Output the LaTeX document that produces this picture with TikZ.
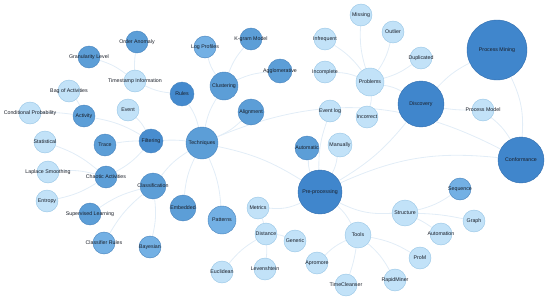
\documentclass[tikz,border=0pt]{standalone}
\usepackage{fontspec}
\setmainfont{Liberation Sans}
\usepackage{xcolor}
\usepackage{tikz}
\usetikzlibrary{backgrounds}

\definecolor{hubcol}{RGB}{64,134,204}
\definecolor{hubline}{RGB}{50,110,175}
\definecolor{midcol}{RGB}{92,158,215}
\definecolor{midline}{RGB}{72,132,190}
\definecolor{mltcol}{RGB}{115,176,228}
\definecolor{leafcol}{RGB}{194,226,248}
\definecolor{leafline}{RGB}{152,198,230}
\definecolor{linkcol}{RGB}{226,237,247}
\definecolor{txtcol}{RGB}{25,30,40}

\begin{document}
\begin{tikzpicture}[
    x=0.03cm,
    y=-0.03cm,
    sz/.style={minimum size=#1*0.06cm},
    bubble/.style={circle, inner sep=0pt, line width=0.35pt},
    hub/.style={bubble, fill=hubcol, draw=hubline},
    mid/.style={bubble, fill=midcol, draw=midline},
    midlt/.style={bubble, fill=mltcol, draw=midline},
    leaf/.style={bubble, fill=leafcol, draw=leafline},
    every label/.style={font=\fontsize{4.5}{5}\selectfont, text=txtcol,
                        inner sep=0pt},
    link/.style={draw=linkcol, line width=0.7pt},
]
\useasboundingbox (0,0) rectangle (550,301);

% main hubs
\node[hub, sz=30, label={center:Process Mining}]  (pm)   at (497,50)  {};
\node[hub, sz=23, label={center:Discovery}]       (disc) at (421,104) {};
\node[hub, sz=23, label={center:Conformance}]     (conf) at (521,160) {};
\node[hub, sz=22, label={center:Pre-processing}]  (pre)  at (320,192) {};
\node[leaf, sz=11, label={center:Process Model}]  (pmod) at (483,110) {};

% problems
\node[leaf, sz=14, label={center:Problems}]   (prob) at (370,82)  {};
\node[leaf, sz=11, label={center:Missing}]    (miss) at (361,15)  {};
\node[leaf, sz=11, label={center:Outlier}]    (outl) at (393,32)  {};
\node[leaf, sz=11, label={center:Duplicated}] (dupl) at (421,58)  {};
\node[leaf, sz=11, label={center:Infrequent}] (infr) at (325,39)  {};
\node[leaf, sz=11, label={center:Incomplete}] (inco) at (325,72)  {};
\node[leaf, sz=11, label={center:Incorrect}]  (incr) at (367,117) {};

% pre-processing
\node[leaf, sz=11, label={center:Event log}]  (elog) at (330,111) {};
\node[leaf, sz=12, label={center:Manually}]   (manu) at (340,145) {};
\node[mid,  sz=12, label={center:Automatic}]  (auto) at (307,148) {};
\node[mid,  sz=16, label={center:Techniques}] (tech) at (202,143) {};

% techniques
\node[mid, sz=12, fill=hubcol!85!midcol, label={center:Rules}] (rule) at (182,94) {};
\node[mid,   sz=14, label={center:Clustering}]    (clus) at (224,86)  {};
\node[midlt, sz=11, label={center:Log Profiles}]  (lprf) at (205,47)  {};
\node[mid,   sz=11, label={center:K-gram Model}]  (kgrm) at (251,39)  {};
\node[mid,   sz=12, label={center:Agglomerative}] (aggl) at (280,71)  {};
\node[mid,   sz=13, label={center:Alignment}]     (alig) at (251,112) {};

\node[mid,  sz=11, label={center:Order Anomaly}]         (oano) at (137,42)  {};
\node[mid,  sz=11, label={center:Granularity Level}]     (gran) at (89,57)   {};
\node[leaf, sz=11, label={center:Timestamp Information}] (tsin) at (135,81)  {};
\node[leaf, sz=11, label={center:Bag of Activities}]     (bago) at (69,91)   {};
\node[leaf, sz=11, label={center:Conditional Probability}] (cond) at (30,113) {};
\node[mid,  sz=11, label={center:Activity}]              (actv) at (84,116)  {};
\node[leaf, sz=11, label={center:Event}]                 (evnt) at (128,110) {};
\node[mid,  sz=12, fill=hubcol!70!midcol, label={center:Filtering}] (filt) at (151,141) {};
\node[mid,  sz=11, label={center:Trace}]                 (trce) at (105,145) {};
\node[leaf, sz=11, label={center:Statistical}]           (stat) at (45,142)  {};
\node[leaf, sz=11, label={center:Laplace Smoothing}]     (lapl) at (48,172)  {};
\node[leaf, sz=11, label={center:Entropy}]               (entr) at (47,201)  {};
\node[mid,  sz=11, label={center:Chaotic Activities}]    (chao) at (106,177) {};
\node[mid,  sz=13, label={center:Classification}]        (clss) at (153,186) {};
\node[mid,  sz=11, label={center:Supervised Learning}]   (supl) at (90,214)  {};
\node[mid,  sz=13, label={center:Embedded}]              (embd) at (183,208) {};
\node[midlt, sz=11, label={center:Classifier Rules}]     (clru) at (104,243) {};
\node[midlt, sz=11, label={center:Bayesian}]             (baye) at (150,247) {};
\node[midlt, sz=14, label={center:Patterns}]             (patt) at (222,220) {};

% metrics
\node[leaf, sz=11, label={center:Metrics}]     (metr) at (258,208) {};
\node[leaf, sz=11, label={center:Distance}]    (dist) at (266,234) {};
\node[leaf, sz=11, label={center:Euclidean}]   (eucl) at (222,272) {};
\node[leaf, sz=11, label={center:Levenshtein}] (leve) at (265,269) {};
\node[leaf, sz=11, label={center:Generic}]     (gene) at (295,241) {};

% tools
\node[leaf, sz=13, label={center:Tools}]        (tool) at (358,235) {};
\node[leaf, sz=11, label={center:Apromore}]     (apro) at (317,263) {};
\node[leaf, sz=11, label={center:TimeCleanser}] (timc) at (346,285) {};
\node[leaf, sz=11, label={center:ProM}]         (prom) at (420,258) {};
\node[leaf, sz=11, label={center:RapidMiner}]   (rapm) at (395,280) {};

% structure
\node[leaf,  sz=13, label={center:Structure}]  (strc) at (405,213) {};
\node[midlt, sz=11, label={center:Sequence}]   (sequ) at (460,189) {};
\node[leaf,  sz=11, label={center:Graph}]      (grph) at (474,221) {};
\node[leaf,  sz=11, label={center:Automation}] (atmn) at (441,234) {};

\begin{scope}[on background layer]
\draw[link] (pm) to[bend right=10] (disc);
\draw[link] (pm) to[bend left=15] (conf);
\draw[link] (disc) to[bend right=5] (pmod);
\draw[link] (pmod) to[bend left=10] (conf);
\draw[link] (disc) to[bend right=10] (prob);
\draw[link] (disc) to[bend left=10] (pre);
\draw[link] (conf) to[bend right=15] (pre);
\draw[link] (tech) to[bend left=25] (conf);

\draw[link] (prob) to[bend left=10] (miss);
\draw[link] (prob) to[bend right=10] (outl);
\draw[link] (prob) to[bend right=10] (dupl);
\draw[link] (prob) to[bend right=10] (infr);
\draw[link] (prob) to[bend right=10] (inco);
\draw[link] (prob) to[bend left=10] (incr);

\draw[link] (pre) to[bend left=10] (elog);
\draw[link] (pre) to[bend right=10] (manu);
\draw[link] (pre) to[bend left=10] (auto);
\draw[link] (pre) to[bend right=10] (tech);
\draw[link] (pre) to[bend right=15] (strc);
\draw[link] (pre) to[bend left=10] (tool);
\draw[link] (pre) to[bend left=15] (metr);

\draw[link] (tech) to[bend right=10] (rule);
\draw[link] (tech) to[bend left=10] (clus);
\draw[link] (tech) to[bend right=10] (alig);
\draw[link] (tech) to[bend right=5] (filt);
\draw[link] (tech) to[bend right=10] (clss);
\draw[link] (tech) to[bend right=10] (embd);
\draw[link] (tech) to[bend left=10] (patt);

\draw[link] (clus) to[bend left=10] (lprf);
\draw[link] (clus) to[bend left=10] (kgrm);
\draw[link] (clus) to[bend left=10] (aggl);

\draw[link] (rule) to[bend left=10] (tsin);
\draw[link] (tsin) to[bend left=5] (oano);
\draw[link] (tsin) to[bend right=10] (gran);
\draw[link] (filt) to[bend right=10] (evnt);
\draw[link] (filt) to[bend right=5] (trce);
\draw[link] (filt) to[bend right=10] (actv);
\draw[link] (filt) to[bend left=10] (chao);
\draw[link] (actv) to[bend right=10] (bago);
\draw[link] (actv) to[bend right=5] (cond);
\draw[link] (chao) to[bend right=10] (stat);
\draw[link] (chao) to[bend right=10] (lapl);
\draw[link] (chao) to[bend left=10] (entr);

\draw[link] (clss) to[bend right=10] (supl);
\draw[link] (clss) to[bend right=10] (clru);
\draw[link] (clss) to[bend left=10] (baye);

\draw[link] (metr) to[bend left=5] (dist);
\draw[link] (dist) to[bend right=10] (eucl);
\draw[link] (dist) to[bend left=5] (leve);
\draw[link] (dist) to[bend left=10] (gene);

\draw[link] (tool) to[bend right=10] (apro);
\draw[link] (tool) to[bend left=5] (timc);
\draw[link] (tool) to[bend left=10] (prom);
\draw[link] (tool) to[bend left=10] (rapm);

\draw[link] (strc) to[bend right=10] (sequ);
\draw[link] (strc) to[bend left=5] (grph);
\draw[link] (strc) to[bend left=5] (atmn);
\end{scope}
\end{tikzpicture}
\end{document}
